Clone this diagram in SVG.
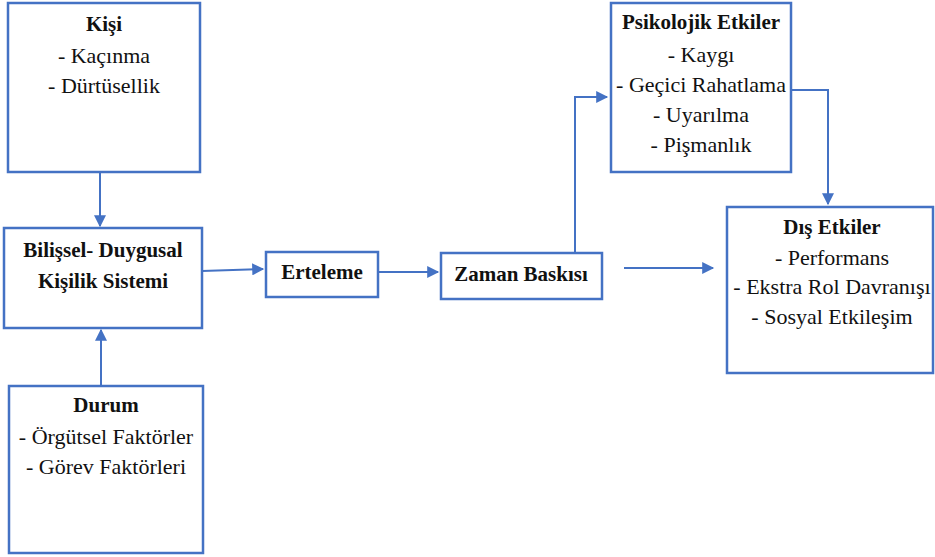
<svg xmlns="http://www.w3.org/2000/svg" width="935" height="557" viewBox="0 0 935 557">
  <defs>
    <marker id="arrow" viewBox="0 0 10 10" refX="9" refY="5" markerWidth="6.5" markerHeight="6" orient="auto" markerUnits="strokeWidth">
      <path d="M0,0 L10,5 L0,10 Z" fill="#4472C4"/>
    </marker>
    <style>
      .box { fill: #ffffff; stroke: #4472C4; stroke-width: 2.5; }
      .t { font-family: "Liberation Serif", "Times New Roman", serif; font-size: 22px; fill: #111; text-anchor: middle; }
      .b { font-weight: bold; font-size: 21px; }
      .link { fill: none; stroke: #4472C4; stroke-width: 2; marker-end: url(#arrow); }
    </style>
  </defs>
  <rect width="935" height="557" fill="#ffffff"/>

  <!-- arrows between the boxes -->
  <g id="connectors">
    <path class="link" d="M100,172 L100,226"/>
    <path class="link" d="M101,386 L101,330"/>
    <path class="link" d="M202,271 L263,269"/>
    <path class="link" d="M378,272 L438,272"/>
    <path class="link" d="M575,253 L575,97 L607,97"/>
    <path class="link" d="M791,90 L828,90 L828,204"/>
    <path class="link" d="M624,268 L713,268"/>
  </g>

  <g id="kisi">
    <rect class="box" x="8" y="3" width="192" height="169"/>
    <text class="t b" x="104" y="31">Kişi</text>
    <text class="t" x="104" y="63">- Kaçınma</text>
    <text class="t" x="104" y="93">- Dürtüsellik</text>
  </g>

  <g id="bilissel">
    <rect class="box" x="4" y="228" width="198" height="100"/>
    <text class="t b" x="103" y="257">Bilişsel- Duygusal</text>
    <text class="t b" x="103" y="288">Kişilik Sistemi</text>
  </g>

  <g id="durum">
    <rect class="box" x="9" y="386" width="194" height="167"/>
    <text class="t b" x="106" y="412">Durum</text>
    <text class="t" x="106" y="444">- Örgütsel Faktörler</text>
    <text class="t" x="106" y="474">- Görev Faktörleri</text>
  </g>

  <g id="erteleme">
    <rect class="box" x="266" y="252" width="112" height="45"/>
    <text class="t b" x="322" y="279">Erteleme</text>
  </g>

  <g id="zaman">
    <rect class="box" x="441" y="253" width="161" height="46"/>
    <text class="t b" x="521" y="281">Zaman Baskısı</text>
  </g>

  <g id="psikolojik">
    <rect class="box" x="611" y="3" width="180" height="169"/>
    <text class="t b" x="701" y="29">Psikolojik Etkiler</text>
    <text class="t" x="701" y="62">- Kaygı</text>
    <text class="t" x="701" y="92">- Geçici Rahatlama</text>
    <text class="t" x="701" y="122">- Uyarılma</text>
    <text class="t" x="701" y="152">- Pişmanlık</text>
  </g>

  <g id="dis">
    <rect class="box" x="727" y="207" width="206" height="166"/>
    <text class="t b" x="832" y="234">Dış Etkiler</text>
    <text class="t" x="832" y="265">- Performans</text>
    <text class="t" x="832" y="294">- Ekstra Rol Davranışı</text>
    <text class="t" x="832" y="324">- Sosyal Etkileşim</text>
  </g>
</svg>
